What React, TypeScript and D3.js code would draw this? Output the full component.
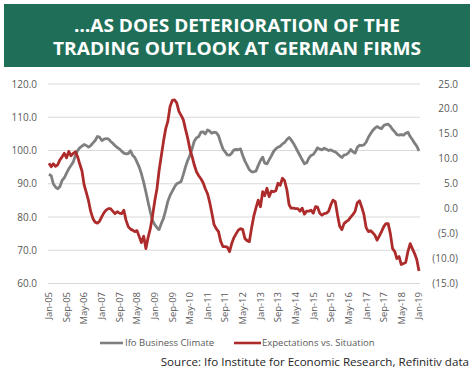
import React from 'react';
import * as d3 from 'd3';

const width = 475;
const height = 372;

const titleLines = ['…AS DOES DETERIORATION OF THE', 'TRADING OUTLOOK AT GERMAN FIRMS'];
const titleWidths = [326, 368];
const sourceText = 'Source: Ifo Institute for Economic Research, Refinitiv data';
const seriesNames = ['Ifo Business Climate', 'Expectations vs. Situation'];

// monthly, Jan-05 .. Jan-19, left axis
const ifoClimate = [
  92.9, 92.4, 90.0, 89.0, 88.5, 89.2, 91.0, 91.8, 93.2, 94.5, 95.5, 96.5,
  98.5, 100.0, 100.8, 101.3, 101.8, 101.5, 101.0, 101.5, 102.3, 103.0, 104.2, 104.0,
  103.0, 103.4, 103.6, 103.5, 102.8, 102.2, 101.5, 100.9, 100.5, 99.8, 99.2, 99.0,
  99.1, 99.9, 98.6, 97.9, 96.5, 95.0, 93.0, 90.5, 87.5, 84.5, 81.5, 79.0,
  77.7, 76.8, 76.2, 78.0, 79.5, 82.0, 84.7, 86.5, 87.8, 89.0, 90.0, 90.3,
  90.7, 92.8, 95.0, 97.0, 98.5, 100.5, 102.8, 103.8, 104.2, 105.5, 105.6, 105.0,
  106.2, 105.8, 105.2, 105.5, 105.4, 104.5, 102.4, 100.5, 99.6, 98.7, 98.6, 99.2,
  100.2, 100.3, 100.2, 100.5, 98.5, 96.8, 95.5, 94.2, 93.6, 93.6, 93.8, 95.5,
  97.0, 98.0, 96.2, 96.0, 97.2, 98.4, 99.7, 100.5, 101.0, 101.3, 102.0, 102.4,
  103.3, 103.9, 103.2, 102.2, 101.0, 99.7, 98.5, 97.2, 96.0, 96.3, 97.7, 98.5,
  98.8, 99.8, 100.8, 100.4, 100.2, 100.7, 100.4, 100.0, 100.2, 99.8, 99.6, 99.0,
  98.4, 97.9, 98.6, 98.8, 99.3, 100.3, 99.6, 99.2, 101.0, 101.6, 101.5, 101.7,
  102.5, 104.0, 105.0, 106.0, 106.7, 107.2, 106.8, 106.6, 107.5, 107.8, 107.9, 107.3,
  106.3, 105.6, 104.8, 104.6, 104.8, 104.6, 105.2, 105.5, 104.2, 103.3, 102.2, 101.3,
  99.9,
];

// monthly, Jan-05 .. Jan-19, right axis
const expVsSituation = [
  9.1, 8.4, 9.0, 8.5, 8.8, 9.8, 10.4, 11.1, 10.2, 11.5, 10.6, 11.1,
  11.4, 10.4, 9.0, 7.6, 4.8, 3.2, 1.6, -0.6, -2.0, -2.7, -2.9, -2.5,
  -1.6, -0.8, -0.3, 0.0, 0.0, -0.5, -1.0, -0.6, -0.9, -1.0, -0.3, -2.3,
  -3.6, -4.1, -4.3, -4.6, -4.4, -5.6, -6.8, -5.5, -8.0, -5.8, -4.0, -1.5,
  1.5, 4.0, 7.5, 10.5, 13.4, 16.0, 17.5, 20.5, 21.7, 21.8, 21.2, 19.5,
  18.7, 17.8, 16.0, 14.2, 12.0, 10.5, 8.8, 7.4, 6.6, 6.0, 5.2, 4.0,
  3.0, 1.2, -0.8, -3.2, -4.0, -4.6, -6.5, -7.6, -7.6, -7.7, -8.6, -7.0,
  -5.8, -5.0, -4.3, -4.0, -4.2, -6.0, -6.4, -6.6, -3.8, -1.5, 0.2, 1.7,
  0.4, 3.4, 2.6, 4.1, 2.4, 3.5, 3.4, 3.6, 5.1, 4.7, 6.1, 5.6,
  3.8, 0.8, 0.1, 0.1, 0.0, 0.0, -0.5, 0.1, -1.1, -0.5, -0.5, -0.3,
  -0.9, 0.4, 0.3, -0.9, -1.3, -1.0, -0.9, -0.5, 0.8, 1.7, 1.4, -1.2,
  -3.5, -4.2, -3.0, -2.6, -2.3, -1.7, -1.2, -0.5, 1.2, 1.6, 0.3, -1.2,
  -3.8, -4.6, -4.4, -4.8, -5.3, -6.3, -5.5, -4.6, -3.6, -3.0, -3.0, -5.0,
  -8.0, -8.6, -10.0, -9.6, -11.2, -11.0, -10.8, -8.6, -7.0, -8.0, -9.0, -10.2,
  -12.5,
];

const leftTicks = [60, 70, 80, 90, 100, 110, 120];
const rightTicks = [-15, -10, -5, 0, 5, 10, 15, 20, 25];
const xTickLabels = [
  'Jan-05', 'Sep-05', 'May-06', 'Jan-07', 'Sep-07', 'May-08', 'Jan-09', 'Sep-09',
  'May-10', 'Jan-11', 'Sep-11', 'May-12', 'Jan-13', 'Sep-13', 'May-14', 'Jan-15',
  'Sep-15', 'May-16', 'Jan-17', 'Sep-17', 'May-18', 'Jan-19',
];

const grayColor = '#7f7f7f';
const redColor = '#ae2b2b';
const textColor = '#595959';
const font = '"Open Sans", sans-serif';

const start = new Date(2005, 0, 1);
const parseTick = d3.timeParse('%b-%y');

export default function App() {
  const x = d3
    .scaleTime()
    .domain([start, new Date(2019, 0, 1)])
    .range([49, 419]);
  const yLeft = d3.scaleLinear().domain([60, 120]).range([283.5, 84]);
  const yRight = d3.scaleLinear().domain([-15, 25]).range([283.5, 84]);

  const dateOf = (i: number) => d3.timeMonth.offset(start, i);

  const grayLine = d3
    .line<number>()
    .x((d, i) => x(dateOf(i)))
    .y((d) => yLeft(d));
  const redLine = d3
    .line<number>()
    .x((d, i) => x(dateOf(i)))
    .y((d) => yRight(d));

  const fmtRight = (v: number) =>
    v < 0 ? `(${Math.abs(v).toFixed(1)})` : v.toFixed(1);

  return (
    <svg
      width={width}
      height={height}
      style={{ position: 'absolute', left: 0, top: 0, background: '#fff' }}
      fontFamily={font}
    >
      <rect x={4} y={4} width={466} height={63} fill="#1f6f58" />
      {titleLines.map((t, i) => (
        <text
          key={t}
          x={237}
          y={31.5 + i * 23.5}
          textAnchor="middle"
          fill="#fff"
          fontWeight={700}
          fontSize={17.5}
          textLength={titleWidths[i]}
          lengthAdjust="spacingAndGlyphs"
        >
          {t}
        </text>
      ))}

      {leftTicks.map((v) => (
        <g key={v}>
          <line
            x1={48}
            x2={420}
            y1={yLeft(v)}
            y2={yLeft(v)}
            stroke="#d9d9d9"
            strokeWidth={1}
          />
          <text
            x={37}
            y={yLeft(v)}
            dy="0.35em"
            textAnchor="end"
            fontSize={10}
            fill={textColor}
          >
            {v.toFixed(1)}
          </text>
        </g>
      ))}

      {rightTicks.map((v) => (
        <text
          key={v}
          x={458}
          y={yRight(v)}
          dy="0.35em"
          textAnchor="end"
          fontSize={10}
          fill={textColor}
        >
          {fmtRight(v)}
        </text>
      ))}

      {xTickLabels.map((t) => {
        const px = x(parseTick(t) as Date);
        return (
          <text
            key={t}
            transform={`translate(${px},292) rotate(-90)`}
            dy="0.35em"
            textAnchor="end"
            fontSize={9.5}
            fill={textColor}
          >
            {t}
          </text>
        );
      })}

      <path
        d={grayLine(ifoClimate) || ''}
        fill="none"
        stroke={grayColor}
        strokeWidth={2.8}
        strokeLinejoin="round"
      />
      <path
        d={redLine(expVsSituation) || ''}
        fill="none"
        stroke={redColor}
        strokeWidth={2.8}
        strokeLinejoin="round"
      />

      <g fontSize={9.5} fill={textColor}>
        <line x1={100} x2={123} y1={343} y2={343} stroke={grayColor} strokeWidth={2.6} />
        <text x={125} y={343} dy="0.35em">
          {seriesNames[0]}
        </text>
        <line x1={234} x2={261} y1={343} y2={343} stroke={redColor} strokeWidth={2.6} />
        <text x={262} y={343} dy="0.35em">
          {seriesNames[1]}
        </text>
      </g>

      <text x={469} y={366} textAnchor="end" fontSize={11.6} fill="#262626">
        {sourceText}
      </text>
    </svg>
  );
}
